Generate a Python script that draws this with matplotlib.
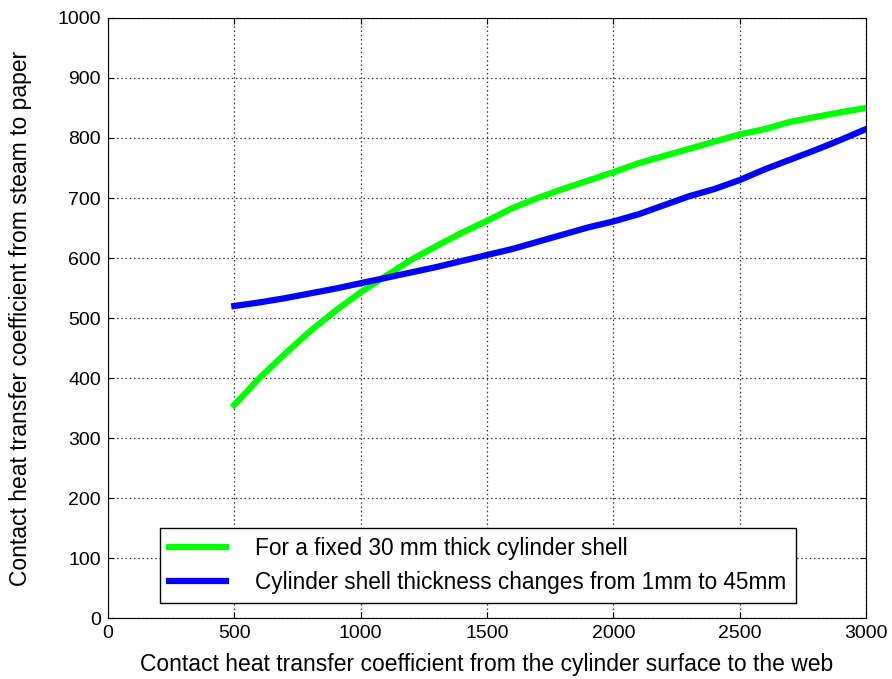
import numpy as np
import matplotlib
matplotlib.use('Agg')
import matplotlib.pyplot as plt

plt.rcParams['font.family'] = ['Liberation Sans', 'DejaVu Sans']

# values
x_vals = [500, 600, 700, 800, 900, 1000, 1100, 1200, 1300, 1400, 1500, 1600, 1700,
          1800, 1900, 2000, 2100, 2200, 2300, 2400, 2500, 2600, 2700, 2800, 2900, 3000]
fixed_shell = [355, 400, 440, 478, 512, 543, 570, 597, 620, 642, 662, 683, 700,
               715, 729, 743, 758, 770, 782, 794, 806, 815, 827, 835, 843, 850]
varying_shell = [520, 526, 533, 541, 549, 558, 567, 576, 585, 595, 605, 615, 627,
                 639, 651, 661, 673, 688, 703, 715, 730, 748, 764, 780, 797, 815]

label_fixed = 'For a fixed 30 mm thick cylinder shell'
label_vary = 'Cylinder shell thickness changes from 1mm to 45mm'

fig = plt.figure(figsize=(8.92, 6.79), dpi=100)
ax = fig.add_axes([0.121, 0.0898, 0.850, 0.8837])

ax.plot(x_vals, fixed_shell, color='#00ff00', lw=4.5, label=label_fixed)
ax.plot(x_vals, varying_shell, color='#0000ff', lw=4.5, label=label_vary)

ax.set_xlim(0, 3000)
ax.set_ylim(0, 1000)
ax.set_xticks(np.arange(0, 3001, 500))
ax.set_yticks(np.arange(0, 1001, 100))
ax.grid(True, linestyle=(0, (1.2, 2.2)), color='#333333', linewidth=0.9)
ax.tick_params(direction='in', top=True, right=True, labelsize=14, length=4, pad=5)

ax.set_xlabel('Contact heat transfer coefficient from the cylinder surface to the web',
              fontsize=16.5, labelpad=8)
ax.set_ylabel('Contact heat transfer coefficient from steam to paper', fontsize=16.5, labelpad=18)

leg = ax.legend(loc='lower left', bbox_to_anchor=(0.069, 0.025), fontsize=16.3,
                handlelength=2.5, handletextpad=1.3, fancybox=False, framealpha=1,
                edgecolor='black', borderpad=0.4, labelspacing=0.5, borderaxespad=0)
leg.get_frame().set_linewidth(1.0)

plt.savefig('out.png', dpi=100)
